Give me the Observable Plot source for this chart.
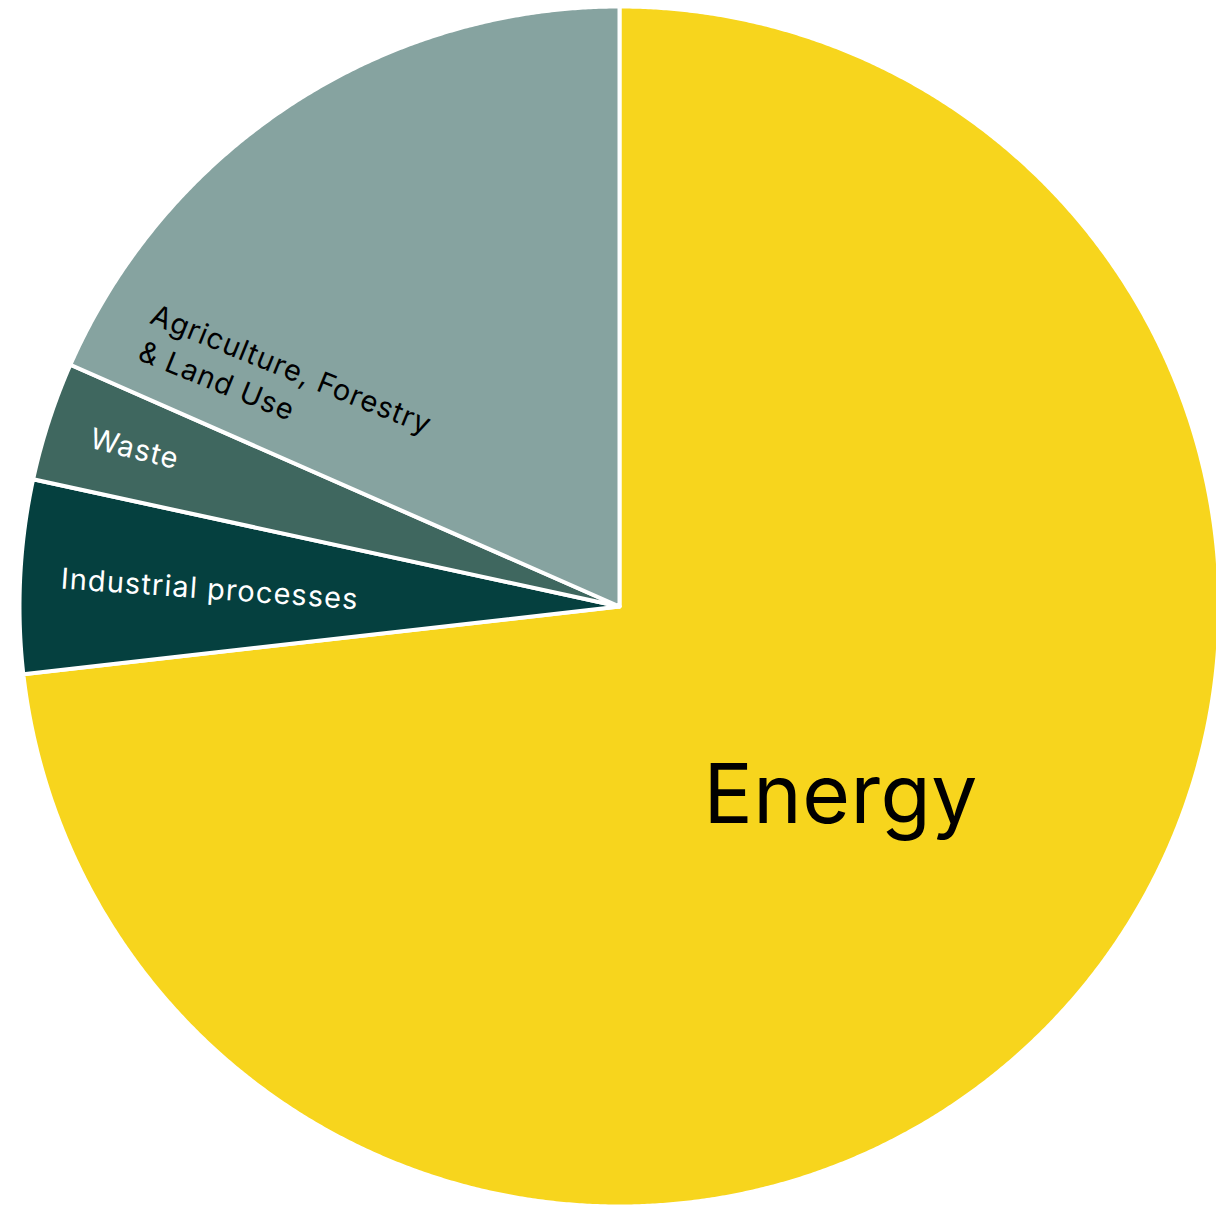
<!DOCTYPE html>
<html>
<head>
<meta charset="utf-8">
<script src="https://cdn.jsdelivr.net/npm/d3@7"></script>
<script src="https://cdn.jsdelivr.net/npm/@observablehq/plot@0.6"></script>
<style>
  html, body { margin: 0; padding: 0; background: #fff; }
  #chart { width: 1216px; height: 1208px; overflow: hidden; }
</style>
</head>
<body>
<div id="chart"></div>
<script>
// Data (share of global GHG emissions, %), in clockwise order from 12 o'clock
const sectors = ["Energy", "Industrial processes", "Waste", "Agriculture, Forestry & Land Use"];
const shares = [73.2, 5.2, 3.2, 18.4];
const colors = ["#F7D51D", "#05403F", "#3F675F", "#86A3A0"];

// Label layout (positions in radius units relative to the pie centre)
const labelText = ["Energy", "Industrial processes", "Waste", "Agriculture, Forestry", "& Land Use"];
const labelX = [0.14, -0.932, -0.885, -0.785, -0.805];
const labelY = [-0.36, 0.030, 0.265, 0.473, 0.412];
const labelRotate = [0, 4, 14, 22, 22];
const labelSize = [82, 29, 29, 29, 29];
const labelSpacing = [0.5, 1.1, 1.1, 0.9, 0.9];
const labelColor = ["#000", "#fff", "#fff", "#000", "#000"];

const W = 1216, H = 1208, R = 600, CX = 619, CY = 606;

const pie = d3.pie().sort(null).value(d => d.value)(sectors.map((s, i) => ({name: s, value: shares[i]})));
const pts = [];
for (const a of pie) {
  const name = a.data.name;
  pts.push({name, x: 0, y: 0});
  const n = Math.max(2, Math.ceil((a.endAngle - a.startAngle) / (Math.PI / 720)));
  for (let k = 0; k <= n; k++) {
    const t = a.startAngle + (a.endAngle - a.startAngle) * k / n;
    pts.push({name, x: Math.sin(t), y: Math.cos(t)});
  }
}

const labels = labelText.map((t, i) => ({text: t, x: labelX[i], y: labelY[i], rotate: labelRotate[i], size: labelSize[i], color: labelColor[i], spacing: labelSpacing[i]}));

const plot = Plot.plot({
  width: W,
  height: H,
  margin: 0,
  x: {domain: [-CX / R, (W - CX) / R], axis: null},
  y: {domain: [-(H - CY) / R, CY / R], axis: null},
  color: {domain: sectors, range: colors},
  style: {fontFamily: "Inter, sans-serif", background: "#fff"},
  marks: [
    Plot.line(pts, {x: "x", y: "y", z: "name", fill: "name", stroke: "#fff", strokeWidth: 4, curve: "linear-closed", strokeLinejoin: "round"}),
    ...labels.map(l => Plot.text([l], {x: "x", y: "y", text: "text", rotate: l.rotate, fontSize: l.size, fill: l.color, textAnchor: "start", lineAnchor: "bottom"}))
  ]
});
// letter spacing for labels (text marks in label order)
const textNodes = Array.from(plot.querySelectorAll("text"));
labels.forEach(l => {
  const node = textNodes.find(n => n.textContent === l.text);
  if (node) node.style.letterSpacing = l.spacing + "px";
});
document.getElementById("chart").appendChild(plot);
</script>
</body>
</html>
